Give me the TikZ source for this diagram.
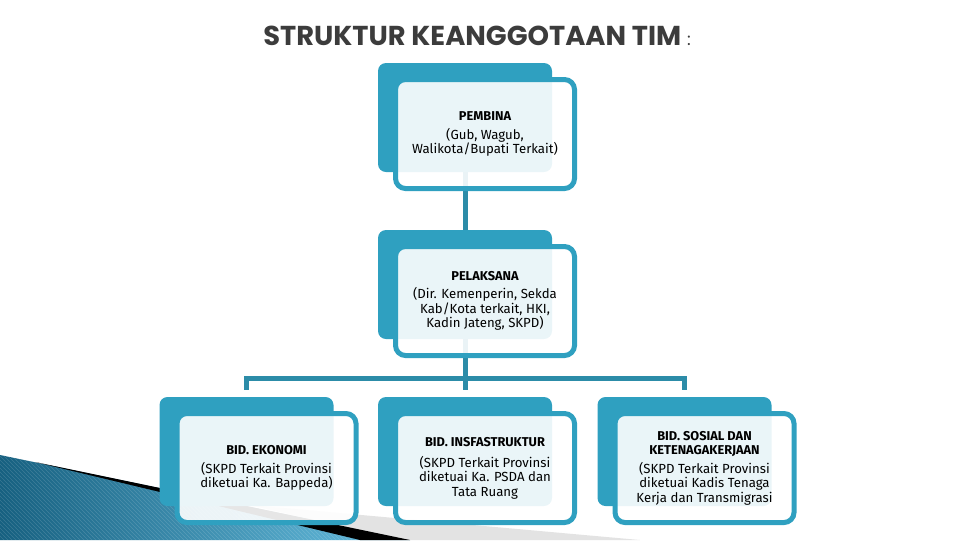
\documentclass[tikz,border=0pt]{standalone}
\usepackage{fontspec}
\setmainfont{Fira Sans}
\newfontfamily\titlefont{Poppins}
\usetikzlibrary{backgrounds,patterns}
\definecolor{cardteal}{RGB}{47,160,192}
\definecolor{linkteal}{RGB}{44,140,168}
\definecolor{titlegray}{RGB}{60,60,60}
\definecolor{swoopdark}{RGB}{22,96,128}
\definecolor{swooplight}{RGB}{104,192,226}
\newcommand{\cardhead}[1]{{\bfseries\fontsize{9.6}{11.2}\selectfont #1}}

\begin{document}
\begin{tikzpicture}[x=0.75pt,y=-0.75pt,
    backcard/.style={fill=cardteal, rounded corners=6pt, minimum width=130.5pt, minimum height=81.75pt, inner sep=0pt},
    frontcard/.style={draw=cardteal, line width=3.75pt, fill=white, fill opacity=0.9, text opacity=1,
      rounded corners=7.5pt, minimum width=134.25pt, minimum height=81.75pt, inner sep=1pt,
      align=center, font=\fontsize{9.9}{10.9}\selectfont},
    link/.style={draw=linkteal, line width=3.75pt}]
    \useasboundingbox (0,0) rectangle (960,540);

    \node[font=\titlefont\bfseries\fontsize{20.5}{22}\selectfont, text=titlegray] (title) at (477,36)
        {STRUKTUR KEANGGOTAAN TIM {\mdseries\fontsize{13}{14}\selectfont :}};

    % back cards
    \node[backcard] (pembina-back) at (465,117.5) {};
    \node[backcard] (pelaksana-back) at (465,284.5) {};
    \node[backcard] (ekonomi-back) at (246.5,451.5) {};
    \node[backcard] (infra-back) at (465,451.5) {};
    \node[backcard] (sosial-back) at (684.5,451.5) {};

    % front cards
    \node[frontcard] (pembina) at (485,134)
        {\cardhead{PEMBINA}\\[3pt](Gub, Wagub,\\Walikota/Bupati Terkait)};
    \node[frontcard] (pelaksana) at (485,301)
        {\cardhead{PELAKSANA}\\[3pt](Dir. Kemenperin, Sekda\\Kab/Kota terkait, HKI,\\Kadin Jateng, SKPD)};
    \node[frontcard] (ekonomi) at (266.5,468)
        {\cardhead{BID. EKONOMI}\\[3pt](SKPD Terkait Provinsi\\diketuai Ka. Bappeda)};
    \node[frontcard] (infra) at (485,468)
        {\cardhead{BID. INSFASTRUKTUR}\\[5pt](SKPD Terkait Provinsi\\diketuai Ka. PSDA dan\\Tata Ruang};
    \node[frontcard] (sosial) at (704.5,468)
        {\cardhead{BID. SOSIAL DAN}\\\cardhead{KETENAGAKERJAAN}\\[3pt](SKPD Terkait Provinsi\\diketuai Kadis Tenaga\\Kerja dan Transmigrasi};

    \begin{scope}[on background layer]
        % swoosh in the corner
        \shade[left color=swoopdark, right color=swooplight] (0,455) -- (410,540) -- (0,540) -- cycle;
        \fill[pattern=north west lines, pattern color=white, opacity=0.15] (0,455) -- (410,540) -- (0,540) -- cycle;
        \fill[gray!22] (250,505) -- (640,540) -- (400,540) -- cycle;
        \fill[black] (35,462) -- (410,540) -- (360,540) -- cycle;

        % links
        \coordinate (bus) at (465,378);
        \draw[link] (pembina-back) -- (pelaksana-back);
        \draw[link] (pelaksana-back) -- (bus);
        \draw[link] ([yshift=5.25pt]ekonomi-back.north) |- (sosial-back.north |- bus) -- ([yshift=5.25pt]sosial-back.north);
        \draw[link] (bus) -- ([yshift=5.25pt]infra-back.north);
    \end{scope}
\end{tikzpicture}
\end{document}
